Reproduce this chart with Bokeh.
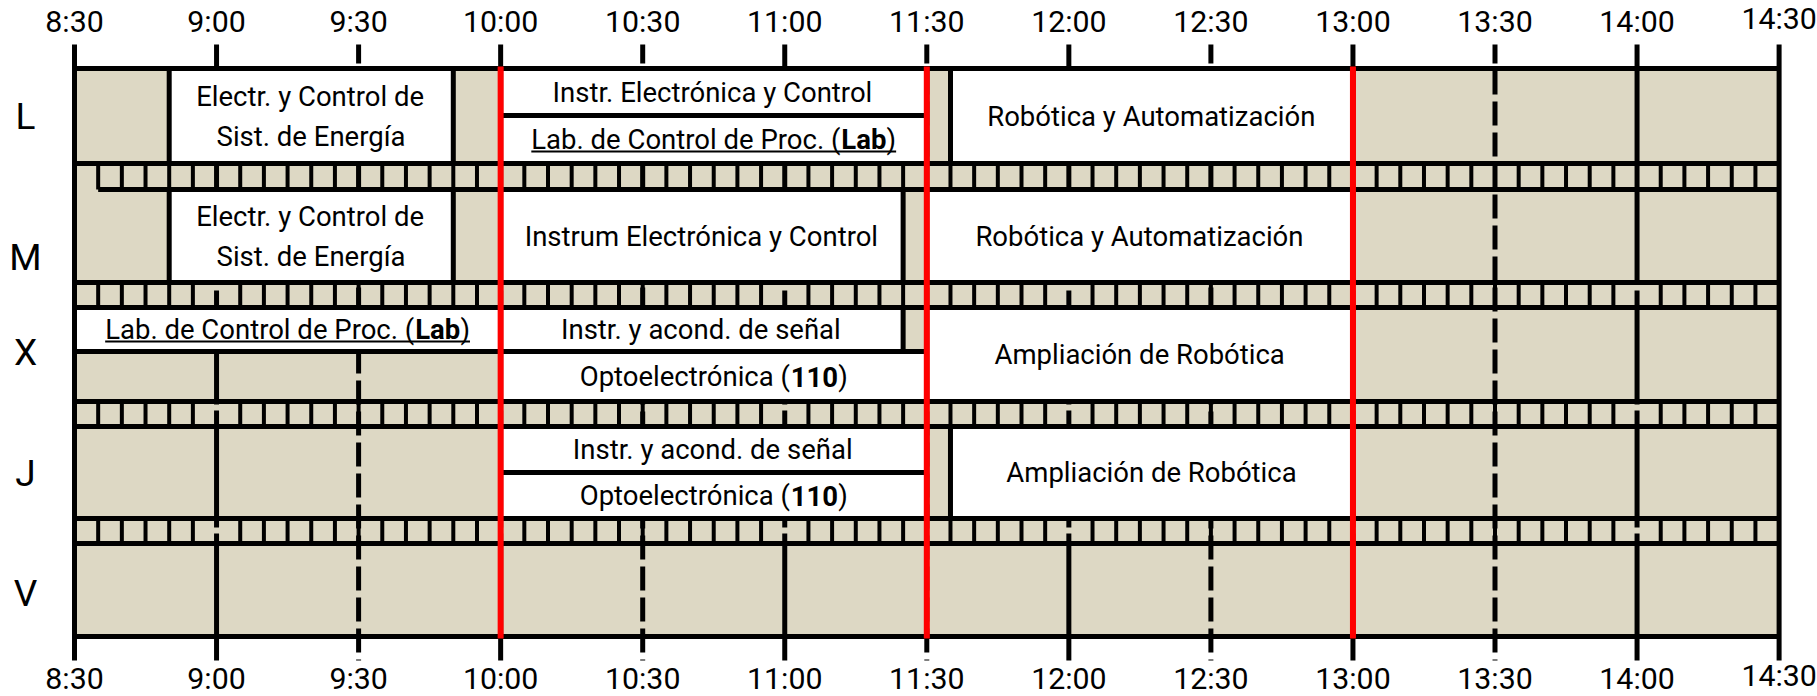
import glob
import os
import struct

from bokeh.embed import file_html
from bokeh.models import ColumnDataSource, Range1d
from bokeh.plotting import figure
from bokeh.resources import INLINE
from bokeh.core.properties import value

# ---------------- data ----------------
days = ["L", "M", "X", "J", "V"]
tick_labels = ["8:30", "9:00", "9:30", "10:00", "10:30", "11:00", "11:30",
               "12:00", "12:30", "13:00", "13:30", "14:00", "14:30"]

cls_day = ["L", "L", "L", "L",
           "M", "M", "M",
           "X", "X", "X", "X",
           "J", "J", "J"]
cls_start = ["8:50", "10:00", "10:00", "11:35",
             "8:50", "10:00", "11:30",
             "8:30", "10:00", "10:00", "11:30",
             "10:00", "10:00", "11:35"]
cls_end = ["9:50", "11:30", "11:30", "13:00",
           "9:50", "11:25", "13:00",
           "10:00", "11:25", "11:30", "13:00",
           "11:30", "11:30", "13:00"]
cls_part = ["full", "top", "bottom", "full",
            "full", "full", "full",
            "top", "top", "bottom", "full",
            "top", "bottom", "full"]
cls_label = ["Electr. y Control de\nSist. de Energía",
             "Instr. Electrónica y Control",
             "Lab. de Control de Proc. (**Lab**)",
             "Robótica y Automatización",
             "Electr. y Control de\nSist. de Energía",
             "Instrum Electrónica y Control",
             "Robótica y Automatización",
             "Lab. de Control de Proc. (**Lab**)",
             "Instr. y acond. de señal",
             "Optoelectrónica (**110**)",
             "Ampliación de Robótica",
             "Instr. y acond. de señal",
             "Optoelectrónica (**110**)",
             "Ampliación de Robótica"]
cls_underline = [False, False, True, False,
                 False, False, False,
                 True, False, False, False,
                 False, False, False]
red_times = ["10:00", "11:30", "13:00"]

# ---------------- layout (page pixels) ----------------
W, H = 1816, 695
X0_PX = 74.0          # page x of 8:30
PXH = 284.1           # pixels per hour
day_top = [68, 189, 307, 426, 543]
day_bottom = [163, 282, 401, 518, 636]
day_split = [115, None, 351, 472, None]
day_label_y = [116, 257, 352, 473, 593]
tick_label_dy = [0] * 12 + [-3]
row_line_start = {"M": "8:35"}
TAN = "#DDD8C4"
FONT = "Roboto"


def hm(s):
    h, m = s.split(":")
    return int(h) + int(m) / 60.0


def px2h(px):
    return 8.5 + (px - X0_PX) / PXH


T0, T1 = hm(tick_labels[0]), hm(tick_labels[-1])


# ---------------- font metrics (for composing rich labels) ----------------
def load_metrics(names):
    path = None
    for n in names:
        for d in ["/usr/share/fonts", "/usr/local/share/fonts", os.path.expanduser("~/.fonts")]:
            r = sorted(glob.glob(os.path.join(d, "**", n), recursive=True))
            if r:
                path = r[0]
                break
        if path:
            break
    if not path:
        return None
    try:
        data = open(path, "rb").read()
        off0 = struct.unpack(">I", data[12:16])[0] if data[:4] == b"ttcf" else 0
        num = struct.unpack(">H", data[off0 + 4:off0 + 6])[0]
        tabs = {}
        for i in range(num):
            rec = off0 + 12 + 16 * i
            tag = data[rec:rec + 4].decode("latin1")
            o = struct.unpack(">I", data[rec + 8:rec + 12])[0]
            tabs[tag] = o
        upem = struct.unpack(">H", data[tabs["head"] + 18:tabs["head"] + 20])[0]
        nhm = struct.unpack(">H", data[tabs["hhea"] + 34:tabs["hhea"] + 36])[0]
        hmo = tabs["hmtx"]
        adv = [struct.unpack(">H", data[hmo + 4 * i:hmo + 4 * i + 2])[0] for i in range(nhm)]
        c = tabs["cmap"]
        n = struct.unpack(">H", data[c + 2:c + 4])[0]
        s = None
        for i in range(n):
            pid, eid, so = struct.unpack(">HHI", data[c + 4 + 8 * i:c + 12 + 8 * i])
            fmt = struct.unpack(">H", data[c + so:c + so + 2])[0]
            if fmt == 4 and ((pid == 3 and eid == 1) or pid == 0):
                s = c + so
                break
        if s is None:
            return None
        segx2 = struct.unpack(">H", data[s + 6:s + 8])[0]
        sc = segx2 // 2
        ends = struct.unpack(">%dH" % sc, data[s + 14:s + 14 + segx2])
        starts = struct.unpack(">%dH" % sc, data[s + 16 + segx2:s + 16 + 2 * segx2])
        deltas = struct.unpack(">%dh" % sc, data[s + 16 + 2 * segx2:s + 16 + 3 * segx2])
        rpos = s + 16 + 3 * segx2
        roffs = struct.unpack(">%dH" % sc, data[rpos:rpos + segx2])

        def gid(ch):
            code = ord(ch)
            for i in range(sc):
                if ends[i] >= code:
                    if starts[i] > code:
                        return 0
                    if roffs[i] == 0:
                        return (code + deltas[i]) & 0xFFFF
                    a = rpos + 2 * i + roffs[i] + 2 * (code - starts[i])
                    g = struct.unpack(">H", data[a:a + 2])[0]
                    return (g + deltas[i]) & 0xFFFF if g else 0
            return 0

        def width(text):
            return sum(adv[min(gid(ch), nhm - 1)] for ch in text) / upem
        return width
    except Exception:
        return None


w_reg = load_metrics(["Roboto-Regular.ttf", "Roboto-Regular.otf", "Roboto[*.ttf"]) \
    or (lambda t: 0.51 * len(t))
w_bold = load_metrics(["Roboto-Bold.ttf", "Roboto-Bold.otf"]) \
    or (lambda t: 1.04 * w_reg(t))

FS_BOX = 329.0 / w_reg("Robótica y Automatización")
FS_TICK = FS_BOX * 1.1
FS_DAY = 37

# ---------------- figure (data coordinates = page pixels vertically) ----------------
p = figure(width=W, height=H,
           x_range=Range1d(px2h(0), px2h(W)),
           y_range=Range1d(H, 0),
           x_axis_type=None, y_axis_type=None,
           output_backend="svg", toolbar_location=None, min_border=0)
p.grid.visible = False
p.outline_line_color = None
p.background_fill_color = "white"
p.border_fill_color = "white"

# tan background
p.quad(left=[T0], right=[T1], top=[day_top[0]], bottom=[day_bottom[-1]],
       fill_color=TAN, line_color=None)

tick_t = [hm(t) for t in tick_labels]
hours = [t for t in tick_t[1:-1] if abs(t - round(t)) < 1e-6]
halves = [t for t in tick_t[1:-1] if abs(t - round(t)) >= 1e-6]
Y_TICK0, Y_TICK1 = 44, 660

# hour lines (long dashes) and half-hour lines (short dashes)
p.segment(x0=hours, y0=[Y_TICK0] * len(hours), x1=hours, y1=[Y_TICK1] * len(hours),
          line_color="black", line_width=5, line_dash="240 6 114 6 117 6 300 1")
p.segment(x0=halves, y0=[Y_TICK0] * len(halves), x1=halves, y1=[Y_TICK1] * len(halves),
          line_color="black", line_width=5, line_dash="24 7", line_dash_offset=5)

# strip (5-minute) ticks between the day rows
sx, sy0, sy1 = [], [], []
n5 = int(round((T1 - T0) * 12))
for i in range(len(days) - 1):
    for k in range(1, n5):
        t = T0 + k / 12.0
        if abs(t - round(t)) < 1e-6:
            continue
        sx.append(t)
        sy0.append(day_bottom[i])
        sy1.append(day_top[i + 1])
p.segment(x0=sx, y0=sy0, x1=sx, y1=sy1, line_color="black", line_width=4)

# class boxes
bl, br, bt, bb = [], [], [], []
for d, s, e, part in zip(cls_day, cls_start, cls_end, cls_part):
    i = days.index(d)
    top, bot = day_top[i], day_bottom[i]
    if part == "top":
        bot = day_split[i]
    elif part == "bottom":
        top = day_split[i]
    bl.append(hm(s))
    br.append(hm(e))
    bt.append(top)
    bb.append(bot)
p.quad(left=bl, right=br, top=bt, bottom=bb, fill_color="white",
       line_color="black", line_width=5)

# row border lines
hx0, hx1, hy = [], [], []
for i, d in enumerate(days):
    st = hm(row_line_start.get(d, tick_labels[0]))
    hx0 += [st, T0]
    hx1 += [T1, T1]
    hy += [day_top[i], day_bottom[i]]
p.segment(x0=hx0, y0=hy, x1=hx1, y1=hy, line_color="black", line_width=5)

# outer vertical borders
p.segment(x0=[T0, T1], y0=[Y_TICK0] * 2, x1=[T0, T1], y1=[Y_TICK1] * 2,
          line_color="black", line_width=5)

# red lines
rt = [hm(t) for t in red_times]
p.segment(x0=rt, y0=[day_top[0] - 2] * len(rt), x1=rt, y1=[day_bottom[-1] + 2] * len(rt),
          line_color="#FF0000", line_width=6)

# axis labels, top and bottom
for yy in (21, 678):
    p.text(x=tick_t, y=[yy + dy for dy in tick_label_dy], text=tick_labels,
           text_font=value(FONT), text_font_size="%.1fpx" % FS_TICK,
           text_align="center", text_baseline="middle", text_color="black")

# day labels
p.text(x=[px2h(25)] * len(days), y=day_label_y, text=days,
       text_font=value(FONT), text_font_size="%dpx" % FS_DAY,
       text_align="center", text_baseline="middle", text_color="black")

# class labels (with bold pieces and underline)
reg = dict(x=[], y=[], text=[])
bold = dict(x=[], y=[], text=[])
ux0, ux1, uy = [], [], []
for d, s, e, part, lab, und in zip(cls_day, cls_start, cls_end, cls_part, cls_label, cls_underline):
    i = days.index(d)
    top, bot = day_top[i], day_bottom[i]
    if part == "top":
        bot = day_split[i]
    elif part == "bottom":
        top = day_split[i]
    cx = (hm(s) + hm(e)) / 2.0
    cy = (top + bot) / 2.0
    lines = lab.split("\n")
    nl = len(lines)
    for li, line in enumerate(lines):
        yy = cy + (li - (nl - 1) / 2.0) * 40
        pieces = line.split("**")
        widths = []
        for pi, piece in enumerate(pieces):
            fw = w_bold if pi % 2 else w_reg
            widths.append(fw(piece) * FS_BOX)
        total = sum(widths)
        left = -total / 2.0
        for pi, piece in enumerate(pieces):
            if piece:
                tgt = bold if pi % 2 else reg
                tgt["x"].append(cx + left / PXH)
                tgt["y"].append(yy)
                tgt["text"].append(piece)
            left += widths[pi]
        if und:
            ux0.append(cx - total / 2.0 / PXH)
            ux1.append(cx + total / 2.0 / PXH)
            uy.append(yy + 12)

p.text(x="x", y="y", text="text", source=ColumnDataSource(reg),
       text_font=value(FONT), text_font_size="%.1fpx" % FS_BOX,
       text_align="left", text_baseline="middle", text_color="black")
p.text(x="x", y="y", text="text", source=ColumnDataSource(bold),
       text_font=value(FONT), text_font_size="%.1fpx" % FS_BOX, text_font_style="bold",
       text_align="left", text_baseline="middle", text_color="black")
if ux0:
    p.segment(x0=ux0, y0=uy, x1=ux1, y1=uy, line_color="black", line_width=2)

open("out.html", "w").write(file_html(p, INLINE))
